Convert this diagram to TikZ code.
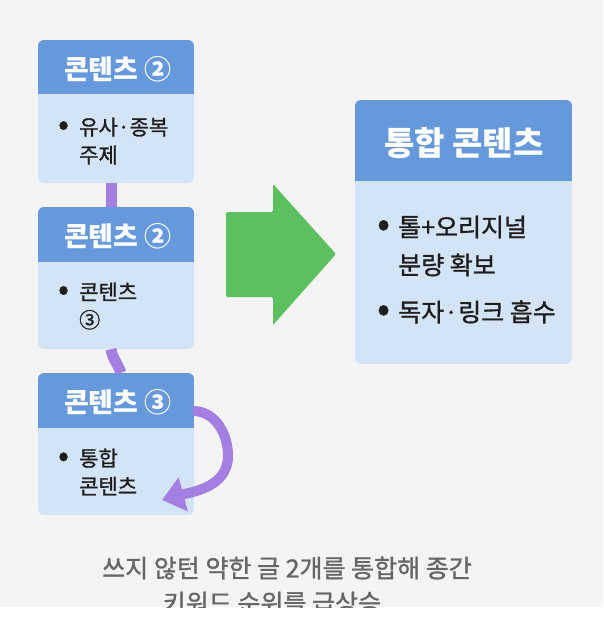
\documentclass[tikz,border=0pt]{standalone}
\usepackage{fontspec}
\setmainfont{Noto Sans CJK KR}
\newfontfamily\krsemi{Noto Sans CJK KR}[FakeBold=1.2]
\usetikzlibrary{arrows.meta}
\definecolor{headblue}{HTML}{6699DC}
\definecolor{bodyblue}{HTML}{D4E4F7}
\definecolor{linkpurple}{HTML}{A27FE0}
\definecolor{arrowgreen}{HTML}{5CBF60}
\definecolor{pagegray}{HTML}{F4F4F4}
\definecolor{notegray}{HTML}{666666}
\definecolor{inkdark}{HTML}{1E1E1E}
\tikzset{
  card/.style={rounded corners=6pt, fill=bodyblue, inner sep=0pt, minimum width=156pt,
    path picture={\fill[headblue, sharp corners] (path picture bounding box.north west)
      rectangle ([yshift=-#1]path picture bounding box.north east);}},
  cardtitle/.style={text=white, font=\bfseries\fontsize{27}{27}\selectfont, inner sep=0pt},
  cardtext/.style={text=inkdark, font=\krsemi\fontsize{21}{28}\selectfont, align=left, anchor=west, inner sep=0pt},
  link/.style={draw=linkpurple, line width=11pt},
  note/.style={text=notegray, font=\krsemi\fontsize{25}{25}\selectfont, inner sep=0pt}
}
\newcommand{\bul}{\makebox[21pt][l]{\scalebox{1.5}{•}}}
\newcommand{\ind}{\hspace*{21pt}}

\begin{document}
\begin{tikzpicture}[x=1pt,y=-1pt,>=Stealth]
  \useasboundingbox (0,0) rectangle (603,627);
  \fill[pagegray] (0,0) rectangle (603,607);
  \fill[white] (0,607) rectangle (603,627);

  % cards
  \node[card=54pt, minimum height=143pt] (c1) at (116,111.5) {};
  \node[card=55pt, minimum height=142pt] (c2) at (116,278) {};
  \node[card=55pt, minimum height=142pt] (c3) at (116,444) {};
  \node[card=81pt, minimum width=217pt, minimum height=264pt] (cm) at (463.5,232) {};

  \node[cardtitle] (t1) at (118,69) {콘텐츠 ②};
  \node[cardtitle] (t2) at (118,236) {콘텐츠 ②};
  \node[cardtitle] (t3) at (118,402) {콘텐츠 ③};
  \node[cardtitle, font=\bfseries\fontsize{33}{33}\selectfont] (tm) at (464,143) {통합 콘텐츠};

  \node[cardtext] (b1) at (58,141) {\bul 유사·종복\\\ind 주제};
  \node[cardtext] (b2) at (58,306) {\bul 콘텐츠\\\ind ③};
  \node[cardtext] (b3) at (58,472) {\bul 통합\\\ind 콘텐츠};
  \node[cardtext, font=\krsemi\fontsize{25}{38}\selectfont] (m1) at (377,246) {\bul 톨+오리지널\\\ind 분량 확보};
  \node[cardtext, font=\krsemi\fontsize{25}{38}\selectfont] (m2) at (377,312) {\bul 독자·링크 흡수};

  % links
  \draw[link] ([xshift=-5pt]c1.south) -- ([xshift=-5pt]c2.north);
  \draw[link] ([xshift=-5pt]c2.south) to[out=-80,in=110] ([xshift=5pt]c3.north);
  \coordinate (s3) at (193,411);
  \coordinate (e3) at (162,500);
  \draw[link, line width=10pt, -{Triangle[width=34pt,length=22pt]}]
    (s3) to[out=0,in=90] (228,456) to[out=-90,in=15] (e3);

  % merge arrow
  \fill[arrowgreen, rounded corners=1.5pt] (226,212) -- (273,212) -- (273,184)
    -- (336,254) -- (273,325) -- (273,297) -- (226,297) -- cycle;

  % caption
  \node[note] (n1) at (287,568) {쓰지 않턴 약한 글 2개를 통합해 종간};
  \begin{scope}
    \clip (0,0) rectangle (603,607);
    \node[note] (n2) at (272,603) {키워드 순위를 급상승};
  \end{scope}
\end{tikzpicture}
\end{document}
